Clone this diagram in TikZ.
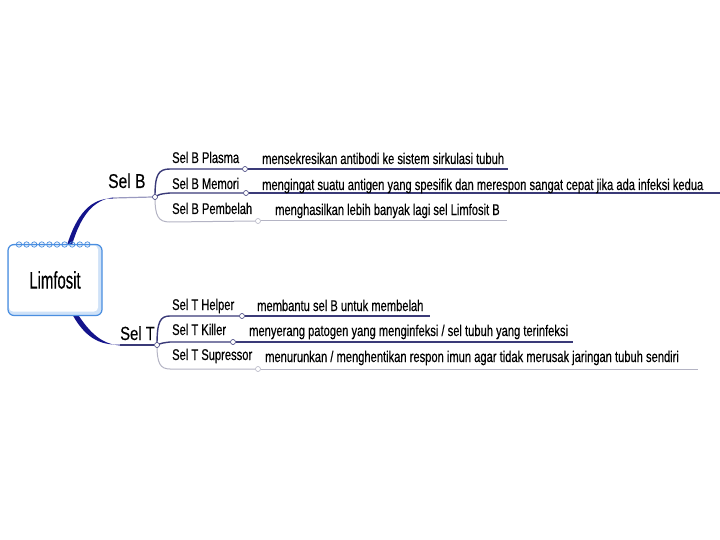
\documentclass[tikz,border=0pt]{standalone}
\usepackage{fontspec}
\setmainfont{Liberation Sans}
\newfontfamily\cf[FakeStretch=0.72,FakeBold=0.35]{Liberation Sans}
\newfontfamily\cfb[FakeStretch=0.78,FakeBold=0.3]{Liberation Sans}
\newfontfamily\cfl[FakeStretch=0.62,FakeBold=0.3]{Liberation Sans}
\definecolor{navy}{HTML}{3A3A78}
\definecolor{lgray}{HTML}{B4B4C4}
\definecolor{bline}{HTML}{9A9AC0}
\definecolor{trunk}{HTML}{14148C}
\definecolor{boxblue}{HTML}{4A8EE0}
\definecolor{boxfill}{HTML}{CFE2F8}
\begin{document}
\begin{tikzpicture}[x=1pt,y=-1pt,
  lbl/.style={font=\cf\fontsize{15.5}{15.5}\selectfont, anchor=base west, inner sep=0pt},
  lblbig/.style={font=\cfb\fontsize{20}{20}\selectfont, anchor=base west, inner sep=0pt},
  dk/.style={draw=navy, line width=1.4pt},
  lt/.style={draw=lgray, line width=1pt},
  bl/.style={draw=bline, line width=1.2pt},
  knot/.style={circle, fill=white, inner sep=0pt, minimum size=5pt, line width=0.6pt}]
\useasboundingbox (0,0) rectangle (720,540);
\fill[white] (0,0) rectangle (720,540);

% coordinates
\coordinate (bS) at (113,198);
\coordinate (tS) at (120,345);
\coordinate (bPl) at (170,169);
\coordinate (bMe) at (170,193);
\coordinate (bPe) at (170,222);
\coordinate (bHe) at (170,316);
\coordinate (bKi) at (170,342);
\coordinate (bSu) at (170,369);
\coordinate (ePl) at (508,169);
\coordinate (eMe) at (720,193);
\coordinate (ePe) at (507,221);
\coordinate (eHe) at (430,316);
\coordinate (eKi) at (573,342);
\coordinate (eSu) at (698,369);

% junction knots (placed first for anchors)
\node[knot] (jB) at (155,197) {};
\node[knot] (jT) at (157,345) {};
\node[knot] (cPl) at (245,169) {};
\node[knot] (cMe) at (246,193) {};
\node[knot] (cPe) at (258,221) {};
\node[knot] (cHe) at (242,316) {};
\node[knot] (cKi) at (233,342) {};
\node[knot] (cSu) at (258,369) {};

% trunks
\fill[trunk] (65,252) .. controls (76,212) and (92,198) .. ([yshift=-0.5pt]bS) -- ([yshift=0.5pt]bS) .. controls (94,200) and (80,214) .. (70,252) -- cycle;
\fill[trunk] (70,310) .. controls (84,338) and (100,345.5) .. ([yshift=0.5pt]tS) -- ([yshift=-0.5pt]tS) .. controls (102,344) and (90,334) .. (75,310) -- cycle;
\draw[bl] (bS) -- (jB.west);
\draw[dk] (tS) -- (jT.west);

% branches B
\draw[dk] (jB.center) .. controls (155,175) and (158,169) .. (bPl) -- (cPl.west);
\draw[dk] (jB.center) .. controls (160,194) .. (bMe) -- (cMe.west);
\draw[lt] (jB.center) .. controls (155,216) and (158,222) .. (bPe) -- (cPe.west);
\draw[dk] (cPl.east) -- (ePl);
\draw[dk] (cMe.east) -- (eMe);
\draw[lt] (cPe.east) -- (ePe);

% branches T
\draw[dk] (jT.center) .. controls (157,322) and (160,316) .. (bHe) -- (cHe.west);
\draw[dk] (jT.center) .. controls (162,343) .. (bKi) -- (cKi.west);
\draw[lt] (jT.center) .. controls (157,363) and (160,369) .. (bSu) -- (cSu.west);
\draw[dk] (cHe.east) -- (eHe);
\draw[dk] (cKi.east) -- (eKi);
\draw[lt] (cSu.east) -- (eSu);

% redraw knots on top
\foreach \k/\c in {jB/navy,jT/navy,cPl/navy,cMe/navy,cPe/lgray,cHe/navy,cKi/navy,cSu/lgray}
  \draw[\c, fill=white, line width=0.6pt] (\k.center) circle (2.5pt);

% root box
\node[draw=boxblue, line width=1.2pt, fill=boxfill, rounded corners=6pt,
      minimum width=94pt, minimum height=71pt, inner sep=0pt,
      font=\cfl\fontsize{24}{24}\selectfont,
      path picture={\fill[white, rounded corners=4pt]
        ([shift={(1,1)}]path picture bounding box.north west) rectangle
        ([shift={(-4,-4)}]path picture bounding box.south east);}]
      (root) at (55,280) {Limfosit};
\foreach \i in {0,...,9}
  \draw[boxblue, line width=0.7pt] (19+\i*7.6,244.5) circle (2.7pt);

% labels
\node[lblbig] (selB) at (108,188) {Sel B};
\node[lblbig, font=\cfb\fontsize{19}{19}\selectfont] (selT) at (120,340) {Sel T};
\node[lbl] (pl) at (172,163) {Sel B Plasma};
\node[lbl] (me) at (172,189) {Sel B Memori};
\node[lbl] (pe) at (172,214) {Sel B Pembelah};
\node[lbl] (he) at (172,310) {Sel T Helper};
\node[lbl] (ki) at (172,335) {Sel T Killer};
\node[lbl] (su) at (172,360) {Sel T Supressor};
\node[lbl] (dpl) at (262,164) {mensekresikan antibodi ke sistem sirkulasi tubuh};
\node[lbl] (dme) at (262,190) {mengingat suatu antigen yang spesifik dan merespon sangat cepat jika ada infeksi kedua};
\node[lbl] (dpe) at (275,215) {menghasilkan lebih banyak lagi sel Limfosit B};
\node[lbl] (dhe) at (257,311) {membantu sel B untuk membelah};
\node[lbl] (dki) at (249,336) {menyerang patogen yang menginfeksi / sel tubuh yang terinfeksi};
\node[lbl] (dsu) at (265,362) {menurunkan / menghentikan respon imun agar tidak merusak jaringan tubuh sendiri};
\end{tikzpicture}
\end{document}
